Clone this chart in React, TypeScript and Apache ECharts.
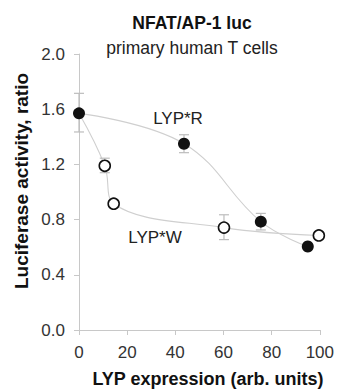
import React, { useEffect, useRef } from "react";
import * as echarts from "echarts";

const rX = [0, 43.6, 75.5, 95];
const rY = [1.57, 1.35, 0.785, 0.605];
const rErrLo = [1.435, 1.285, 0.725, null];
const rErrHi = [1.715, 1.415, 0.845, null];

const wX = [0, 10.7, 14.4, 60.2, 99.6];
const wY = [1.57, 1.19, 0.915, 0.742, 0.685];
const wErrLo = [null, 1.14, null, 0.655, null];
const wErrHi = [null, 1.245, null, 0.835, null];

const xTicks = [0, 20, 40, 60, 80, 100];
const yTicks = [0, 0.4, 0.8, 1.2, 1.6, 2.0];

const FONT = "'Liberation Sans', Arial, Helvetica, sans-serif";

export default function App() {
  const ref = useRef<HTMLDivElement>(null);
  useEffect(() => {
    if (!ref.current) return;
    const chart = echarts.init(ref.current, null, { renderer: "svg" });
    const rLine = rX.map((x, i) => [x, rY[i]]);
    const wLine = wX.map((x, i) => [x, wY[i]]);
    const errData: number[][] = [];
    rX.forEach((x, i) => {
      if (rErrLo[i] != null) errData.push([x, rErrLo[i] as number, rErrHi[i] as number]);
    });
    wX.forEach((x, i) => {
      if (wErrLo[i] != null) errData.push([x, wErrLo[i] as number, wErrHi[i] as number]);
    });
    const axisColor = "#c8c8c8";
    chart.setOption({
      animation: false,
      backgroundColor: "#ffffff",
      textStyle: { fontFamily: FONT },
      grid: { left: 79, top: 54, right: 15, bottom: 59, containLabel: false },
      xAxis: {
        type: "value",
        min: xTicks[0],
        max: xTicks[xTicks.length - 1],
        interval: 20,
        axisLine: { show: true, lineStyle: { color: axisColor, width: 1 } },
        axisTick: { show: true, length: 5, lineStyle: { color: axisColor } },
        axisLabel: { color: "#333", fontSize: 17, margin: 14, fontFamily: FONT },
        splitLine: { show: false },
      },
      yAxis: {
        type: "value",
        min: yTicks[0],
        max: yTicks[yTicks.length - 1],
        interval: 0.4,
        axisLine: { show: true, lineStyle: { color: axisColor, width: 1 } },
        axisTick: { show: true, length: 5, lineStyle: { color: axisColor } },
        axisLabel: {
          color: "#333",
          fontSize: 17,
          margin: 14,
          fontFamily: FONT,
          formatter: (v: number) => v.toFixed(1),
        },
        splitLine: { show: false },
      },
      graphic: [
        {
          type: "text",
          x: 192,
          y: 23,
          style: {
            text: "NFAT/AP-1 luc",
            font: `bold 17.5px ${FONT}`,
            fill: "#111",
            textAlign: "center",
            textVerticalAlign: "middle",
          },
        },
        {
          type: "text",
          x: 192,
          y: 48,
          style: {
            text: "primary human T cells",
            font: `17.5px ${FONT}`,
            fill: "#222",
            textAlign: "center",
            textVerticalAlign: "middle",
          },
        },
        {
          type: "text",
          x: 178,
          y: 118,
          style: {
            text: "LYP*R",
            font: `17px ${FONT}`,
            fill: "#222",
            textAlign: "center",
            textVerticalAlign: "middle",
          },
        },
        {
          type: "text",
          x: 155,
          y: 237,
          style: {
            text: "LYP*W",
            font: `17px ${FONT}`,
            fill: "#222",
            textAlign: "center",
            textVerticalAlign: "middle",
          },
        },
        {
          type: "text",
          x: 208,
          y: 379,
          style: {
            text: "LYP expression (arb. units)",
            font: `bold 18px ${FONT}`,
            fill: "#111",
            textAlign: "center",
            textVerticalAlign: "middle",
          },
        },
        {
          type: "text",
          x: 21,
          y: 181,
          rotation: Math.PI / 2,
          style: {
            text: "Luciferase activity, ratio",
            font: `bold 19px ${FONT}`,
            fill: "#111",
            textAlign: "center",
            textVerticalAlign: "middle",
          },
        },
      ],
      series: [
        {
          type: "line",
          data: rLine,
          smooth: 0.4,
          showSymbol: false,
          lineStyle: { color: "#cfcfcf", width: 1.1 },
          z: 1,
        },
        {
          type: "line",
          data: wLine,
          smooth: 0.4,
          showSymbol: false,
          lineStyle: { color: "#cfcfcf", width: 1.1 },
          z: 1,
        },
        {
          type: "custom",
          data: errData,
          z: 2,
          renderItem: (params: any, api: any) => {
            const x = api.value(0);
            const lo = api.coord([x, api.value(1)]);
            const hi = api.coord([x, api.value(2)]);
            const half = 5;
            const style = { stroke: "#bdbdbd", lineWidth: 1.2 };
            return {
              type: "group",
              children: [
                { type: "line", shape: { x1: lo[0], y1: lo[1], x2: hi[0], y2: hi[1] }, style },
                { type: "line", shape: { x1: hi[0] - half, y1: hi[1], x2: hi[0] + half, y2: hi[1] }, style },
                { type: "line", shape: { x1: lo[0] - half, y1: lo[1], x2: lo[0] + half, y2: lo[1] }, style },
              ],
            };
          },
        },
        {
          type: "scatter",
          data: wLine.slice(1),
          symbol: "circle",
          symbolSize: 11,
          itemStyle: { color: "#ffffff", borderColor: "#111", borderWidth: 1.6, opacity: 1 },
          z: 3,
        },
        {
          type: "scatter",
          data: rLine,
          symbol: "circle",
          symbolSize: 12,
          itemStyle: { color: "#111", opacity: 1 },
          z: 4,
        },
      ],
    });
    return () => chart.dispose();
  }, []);
  return (
    <div
      ref={ref}
      style={{ position: "fixed", left: 0, top: 0, width: 337, height: 389 }}
    />
  );
}
